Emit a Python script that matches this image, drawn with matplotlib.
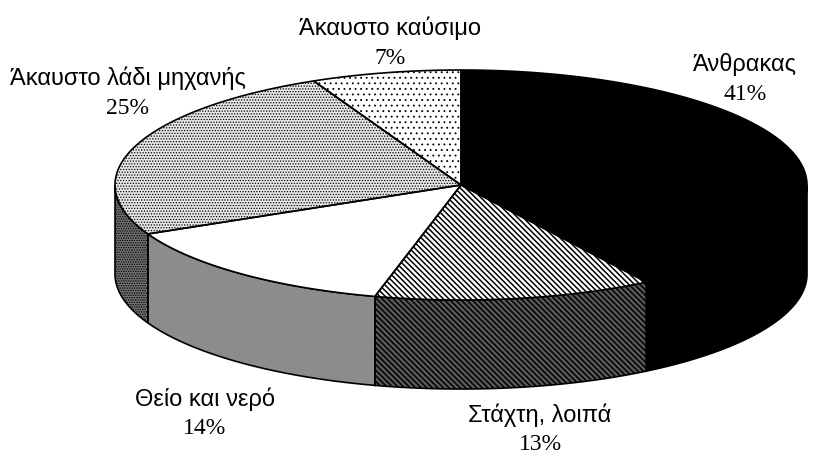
import numpy as np
import matplotlib.pyplot as plt
from matplotlib.patches import Polygon

# data
categories = ['Άνθρακας', 'Στάχτη, λοιπά', 'Θείο και νερό',
              'Άκαυστο λάδι μηχανής', 'Άκαυστο καύσιμο']
shares = [41, 13, 14, 25, 7]
pct_labels = ['41%', '13%', '14%', '25%', '7%']

# geometry of the "3d" pie in pixels
cx, cy = 461, 185
rx, ry = 346, 115
depth = 89

# (face, hatch, hatch width) for top and side of each slice
top_style = [('black', None, 1), ('white', '\\' * 6, 1.1), ('white', None, 1),
             ('#e6e6e6', '.' * 6, 0.6), ('white', '.' * 3, 0.6)]
side_style = [('black', None, 1), ('#5a5a5a', '\\' * 6, 1.1), ('#8c8c8c', None, 1),
              ('#747474', '.' * 7, 0.7), ('white', None, 1)]

label_pos = [(745, 80), (540, 430), (205, 414), (128, 93), (390, 43)]

fig = plt.figure(figsize=(8.29, 4.58), dpi=100)
ax = fig.add_axes([0, 0, 1, 1])
ax.set_xlim(0, 829)
ax.set_ylim(458, 0)
ax.axis('off')


def pt(t):
    r = np.radians(t)
    return cx + rx * np.cos(r), cy - ry * np.sin(r)


def draw(verts, style, z):
    face, hatch, hw = style
    with plt.rc_context({'hatch.linewidth': hw}):
        ax.add_patch(Polygon(verts, closed=True, facecolor=face, hatch=hatch,
                             edgecolor='black', linewidth=0, zorder=z))
    ax.add_patch(Polygon(verts, closed=True, fill=False, edgecolor='black',
                         linewidth=1.2, zorder=z + 0.5))


# angles go clockwise from 12 o'clock
bounds = 90 - 3.6 * np.concatenate([[0], np.cumsum(shares)])

# sides first (front half only: -180..0)
for i in range(len(shares)):
    a0, a1 = bounds[i], bounds[i + 1]
    lo, hi = max(a1, -180), min(a0, 0)
    if lo >= hi:
        continue
    ts = np.linspace(hi, lo, 80)
    up = [pt(t) for t in ts]
    down = [(x, y + depth) for x, y in up[::-1]]
    draw(up + down, side_style[i], 1)

# top faces
for i in range(len(shares)):
    a0, a1 = bounds[i], bounds[i + 1]
    ts = np.linspace(a0, a1, 120)
    verts = [(cx, cy)] + [pt(t) for t in ts]
    draw(verts, top_style[i], 3)

for name, pct, (x, y) in zip(categories, pct_labels, label_pos):
    ax.text(x, y - 15, name, ha='center', va='center', fontsize=17,
            family='Liberation Sans')
    ax.text(x, y + 15, pct, ha='center', va='center', fontsize=17,
            family='Liberation Serif')

fig.savefig('out.png', dpi=100)
